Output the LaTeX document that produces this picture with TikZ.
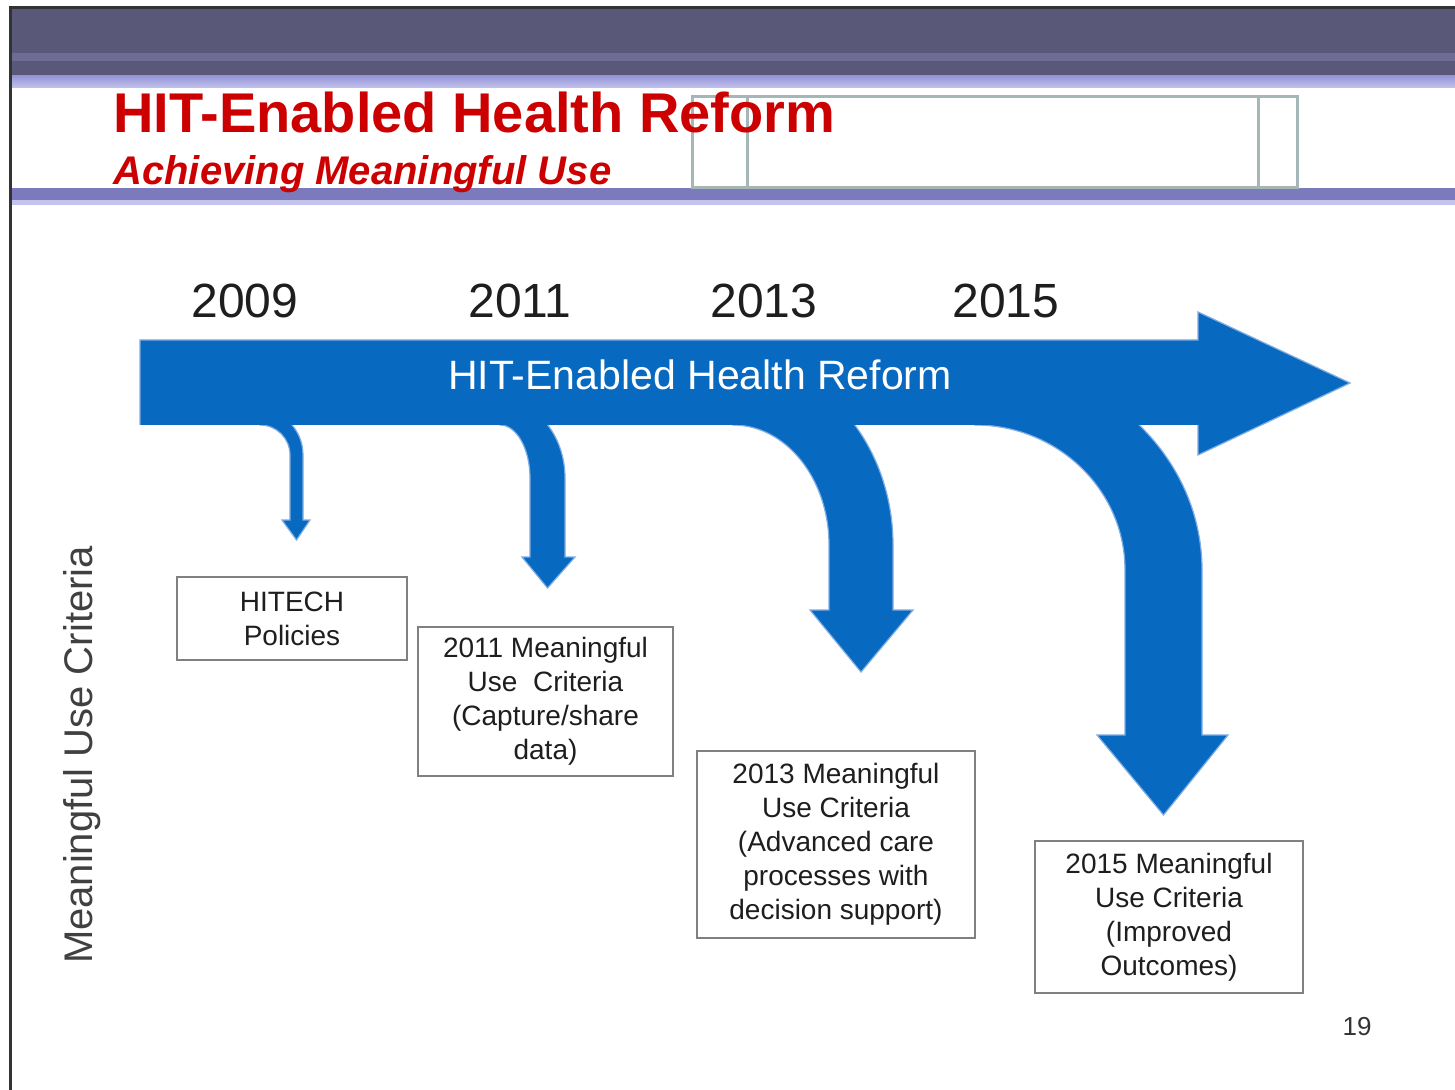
\documentclass[tikz,border=0pt]{standalone}
\usepackage{fontspec}
\setmainfont{Liberation Sans}
\usepackage{tikz}
\usetikzlibrary{positioning}

\definecolor{bandgray}{RGB}{89,88,120}
\definecolor{bandstripe}{RGB}{110,108,148}
\definecolor{lavtop}{RGB}{150,150,215}
\definecolor{lavbot}{RGB}{195,195,238}
\definecolor{rulepurple}{RGB}{122,122,188}
\definecolor{titlered}{RGB}{204,0,0}
\definecolor{framegray}{RGB}{165,182,182}
\definecolor{arrowblue}{RGB}{8,105,192}
\definecolor{edgeblue}{RGB}{125,172,228}
\definecolor{boxgray}{RGB}{128,128,128}
\definecolor{textdark}{RGB}{30,30,30}

\begin{document}
\begin{tikzpicture}[x=0.5pt,y=-0.5pt,
    year/.style={anchor=base,inner sep=0,text=textdark,font=\fontsize{24}{28}\selectfont},
    mubox/.style={draw=boxgray,line width=1.3pt,align=center,inner sep=0,text=textdark,
                  font=\fontsize{14}{17}\selectfont},
    sidelabel/.style={rotate=90,inner sep=0,text=black!75,font=\fontsize{20}{24}\selectfont}]
        \useasboundingbox (0,0) rectangle (1455,1090);
        \fill[white] (0,0) rectangle (1455,1090);
        % header
        \fill[bandgray] (10,8) rectangle (1455,76);
        \fill[bandstripe] (10,53) rectangle (1455,61);
        \shade[top color=lavtop,bottom color=lavbot] (10,76) rectangle (1455,88);
        \fill[rulepurple] (10,188) rectangle (1455,200);
        \fill[lavbot] (10,200) rectangle (1455,205);
        \draw[line width=1.5pt,black!80] (10,1090) -- (10,8) -- (1455,8);
        \draw[framegray,line width=1.5pt] (692,97) rectangle (1297,188);
        \draw[framegray,line width=1.5pt] (747,97) -- (747,188);
        \draw[framegray,line width=1.5pt] (1258,97) -- (1258,188);
        \node[anchor=base west,inner sep=0,text=titlered,font=\fontsize{28}{32}\selectfont\bfseries]
            (title) at (113,133) {HIT-Enabled Health Reform};
        \node[anchor=base west,inner sep=0,text=titlered,font=\fontsize{20}{24}\selectfont\bfseries\itshape]
            (subtitle) at (113,185) {Achieving Meaningful Use};
        % years
        \node[year] (y2009) at (245,318) {2009};
        \node[year] (y2011) at (520,318) {2011};
        \node[year] (y2013) at (764,318) {2013};
        \node[year] (y2015) at (1006,318) {2015};
        % bent arrows down from the timeline
        \foreach \xa/\yc/\sl/\sr/\ry/\hy/\hl/\hr/\ty in
            {260/455/290/303/45/520/282/310/540,
             500/478/530/565/78/557/522/575/588,
             733/545/829/893/185/610/810/913/672,
             975/570/1125/1202/210/735/1097/1228/815}
            \filldraw[fill=arrowblue,draw=edgeblue,line width=0.6pt]
                (\xa,425) .. controls ({\xa+0.552*(\sl-\xa)},425) and (\sl,{\yc-0.552*(\yc-425)}) .. (\sl,\yc)
                -- (\sl,\hy) -- (\hl,\hy) -- ({(\sl+\sr)/2},\ty) -- (\hr,\hy) -- (\sr,\hy) -- (\sr,\yc)
                .. controls (\sr,{\yc-0.552*\ry}) and ({\xa+0.552*(\sr-\xa)},{\yc-\ry}) .. (\xa,{\yc-\ry})
                -- cycle;
        % timeline arrow
        \fill[arrowblue] (140,340) -- (1198,340) -- (1198,312) -- (1350,383) -- (1198,455)
            -- (1198,425) -- (140,425) -- cycle;
        \draw[edgeblue,line width=0.6pt] (1198,425) -- (1198,455) -- (1350,383) -- (1198,312)
            -- (1198,340) -- (140,340) -- (140,425);
        \node[anchor=base,inner sep=0,text=white,font=\fontsize{20.5}{24}\selectfont]
            (banner) at (700,390) {HIT-Enabled Health Reform};
        % criteria boxes
        \node[mubox,minimum width=115pt,minimum height=41.5pt] (hitech) at (292,618.5)
            {HITECH\\Policies};
        \node[mubox,minimum width=127.5pt,minimum height=74.5pt] (mu2011) at (545.5,701.5)
            {2011 Meaningful\\Use~~Criteria\\(Capture/share\\data)};
        \node[mubox,minimum width=139pt,minimum height=93.5pt] (mu2013) at (836,844.5)
            {2013 Meaningful\\Use Criteria\\(Advanced care\\processes with\\decision support)};
        \node[mubox,minimum width=134pt,minimum height=76pt] (mu2015) at (1169,917)
            {2015 Meaningful\\Use Criteria\\(Improved\\Outcomes)};
        \node[sidelabel] (axis) at (82,755) {Meaningful Use Criteria};
        \node[inner sep=0,text=black!80,font=\fontsize{13}{15}\selectfont] (page) at (1357,1027) {19};
    \end{tikzpicture}
\end{document}
